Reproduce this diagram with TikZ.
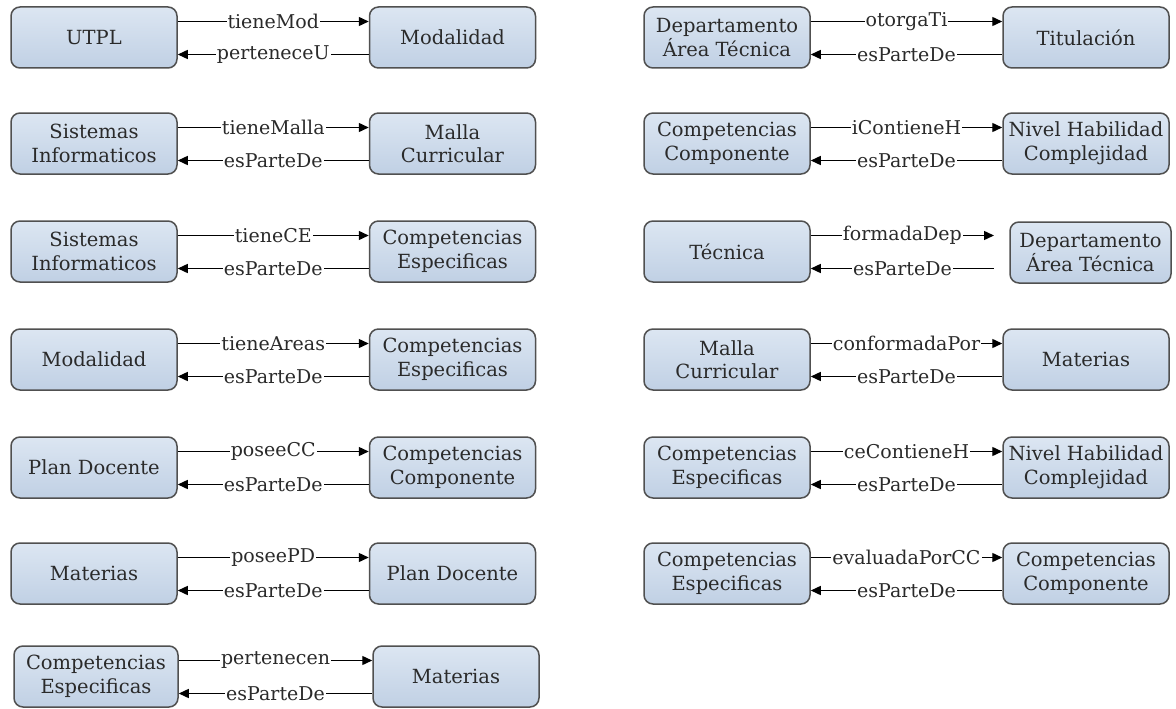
\documentclass[tikz,border=0pt]{standalone}
\usepackage{fontspec}
\setmainfont{DejaVu Serif}
\usetikzlibrary{arrows.meta}

\definecolor{boxtop}{HTML}{DCE6F2}
\definecolor{boxbot}{HTML}{C0D0E4}
\definecolor{boxline}{HTML}{505050}
\definecolor{inktext}{HTML}{2A2A2A}

\tikzset{
  concept/.style={draw=boxline, line width=1.5pt, rounded corners=9pt,
    top color=boxtop, bottom color=boxbot,
    minimum width=166pt, minimum height=61pt, inner sep=0pt,
    align=center, text=inktext, font=\fontsize{19.5}{23.5}\selectfont},
  rel/.style={line width=1.4pt, draw=black, -{Triangle[length=10pt,width=9pt]}},
  back/.style={line width=1.4pt, draw=black, {Triangle[length=10pt,width=9pt]}-},
  lbl/.style={fill=white, inner xsep=1pt, inner ysep=0pt, text=inktext,
    font=\fontsize{19}{22}\selectfont, midway}
}

\begin{document}
\begin{tikzpicture}[x=1pt,y=-1pt]
\useasboundingbox (0,0) rectangle (1176,709);

% ---------------- left column ----------------
\node[concept] (utpl) at (94,37.5) {UTPL};
\node[concept] (modA) at (452.5,37.5) {Modalidad};
\draw[rel]  ([yshift=16pt]utpl.east) -- node[lbl]{tieneMod} ([yshift=16pt]modA.west);
\draw[back] ([yshift=-17pt]utpl.east) -- node[lbl]{perteneceU} ([yshift=-17pt]modA.west);

\node[concept] (sisA) at (94,143.5) {Sistemas\\Informaticos};
\node[concept] (malA) at (452.5,143.5) {Malla\\Curricular};
\draw[rel]  ([yshift=16pt]sisA.east) -- node[lbl]{tieneMalla} ([yshift=16pt]malA.west);
\draw[back] ([yshift=-17pt]sisA.east) -- node[lbl]{esParteDe} ([yshift=-17pt]malA.west);

\node[concept] (sisB) at (94,251.5) {Sistemas\\Informaticos};
\node[concept] (ceA) at (452.5,251.5) {Competencias\\Especificas};
\draw[rel]  ([yshift=16pt]sisB.east) -- node[lbl]{tieneCE} ([yshift=16pt]ceA.west);
\draw[back] ([yshift=-17pt]sisB.east) -- node[lbl]{esParteDe} ([yshift=-17pt]ceA.west);

\node[concept] (modB) at (94,359.5) {Modalidad};
\node[concept] (ceB) at (452.5,359.5) {Competencias\\Especificas};
\draw[rel]  ([yshift=16pt]modB.east) -- node[lbl]{tieneAreas} ([yshift=16pt]ceB.west);
\draw[back] ([yshift=-17pt]modB.east) -- node[lbl]{esParteDe} ([yshift=-17pt]ceB.west);

\node[concept] (pdA) at (94,467.5) {Plan Docente};
\node[concept] (ccA) at (452.5,467.5) {Competencias\\Componente};
\draw[rel]  ([yshift=16pt]pdA.east) -- node[lbl]{poseeCC} ([yshift=16pt]ccA.west);
\draw[back] ([yshift=-17pt]pdA.east) -- node[lbl]{esParteDe} ([yshift=-17pt]ccA.west);

\node[concept] (matA) at (94,573.5) {Materias};
\node[concept] (pdB) at (452.5,573.5) {Plan Docente};
\draw[rel]  ([yshift=16pt]matA.east) -- node[lbl]{poseePD} ([yshift=16pt]pdB.west);
\draw[back] ([yshift=-17pt]matA.east) -- node[lbl]{esParteDe} ([yshift=-17pt]pdB.west);

\node[concept, minimum width=164pt] (ceC) at (96,676.5) {Competencias\\Especificas};
\node[concept] (matB) at (456,676.5) {Materias};
\draw[rel]  ([yshift=16pt]ceC.east) -- node[lbl]{pertenecen} ([yshift=16pt]matB.west);
\draw[back] ([yshift=-17pt]ceC.east) -- node[lbl]{esParteDe} ([yshift=-17pt]matB.west);

% ---------------- right column ----------------
\node[concept] (depA) at (727,37.5) {Departamento\\Área Técnica};
\node[concept] (tit) at (1086,37.5) {Titulación};
\draw[rel]  ([yshift=16pt]depA.east) -- node[lbl]{otorgaTi} ([yshift=16pt]tit.west);
\draw[back] ([yshift=-17pt]depA.east) -- node[lbl]{esParteDe} ([yshift=-17pt]tit.west);

\node[concept] (ccB) at (727,143.5) {Competencias\\Componente};
\node[concept] (nhA) at (1086,143.5) {Nivel Habilidad\\Complejidad};
\draw[rel]  ([yshift=16pt]ccB.east) -- node[lbl]{iContieneH} ([yshift=16pt]nhA.west);
\draw[back] ([yshift=-17pt]ccB.east) -- node[lbl]{esParteDe} ([yshift=-17pt]nhA.west);

\node[concept] (tec) at (727,251.5) {Técnica};
\node[concept, minimum width=161pt] (depB) at (1090.5,252.5) {Departamento\\Área Técnica};
\coordinate (tecTop) at (994,235.5);
\coordinate (tecBot) at (994,268.5);
\draw[rel]  ([yshift=16pt]tec.east) -- node[lbl]{formadaDep} (tecTop);
\draw[back] ([yshift=-17pt]tec.east) -- node[lbl]{esParteDe} (tecBot);

\node[concept] (malB) at (727,359.5) {Malla\\Curricular};
\node[concept] (matC) at (1086,359.5) {Materias};
\draw[rel]  ([yshift=16pt]malB.east) -- node[lbl]{conformadaPor} ([yshift=16pt]matC.west);
\draw[back] ([yshift=-17pt]malB.east) -- node[lbl]{esParteDe} ([yshift=-17pt]matC.west);

\node[concept] (ceD) at (727,467.5) {Competencias\\Especificas};
\node[concept] (nhB) at (1086,467.5) {Nivel Habilidad\\Complejidad};
\draw[rel]  ([yshift=16pt]ceD.east) -- node[lbl]{ceContieneH} ([yshift=16pt]nhB.west);
\draw[back] ([yshift=-17pt]ceD.east) -- node[lbl]{esParteDe} ([yshift=-17pt]nhB.west);

\node[concept] (ceE) at (727,573.5) {Competencias\\Especificas};
\node[concept] (ccC) at (1086,573.5) {Competencias\\Componente};
\draw[rel]  ([yshift=16pt]ceE.east) -- node[lbl]{evaluadaPorCC} ([yshift=16pt]ccC.west);
\draw[back] ([yshift=-17pt]ceE.east) -- node[lbl]{esParteDe} ([yshift=-17pt]ccC.west);
\end{tikzpicture}
\end{document}
